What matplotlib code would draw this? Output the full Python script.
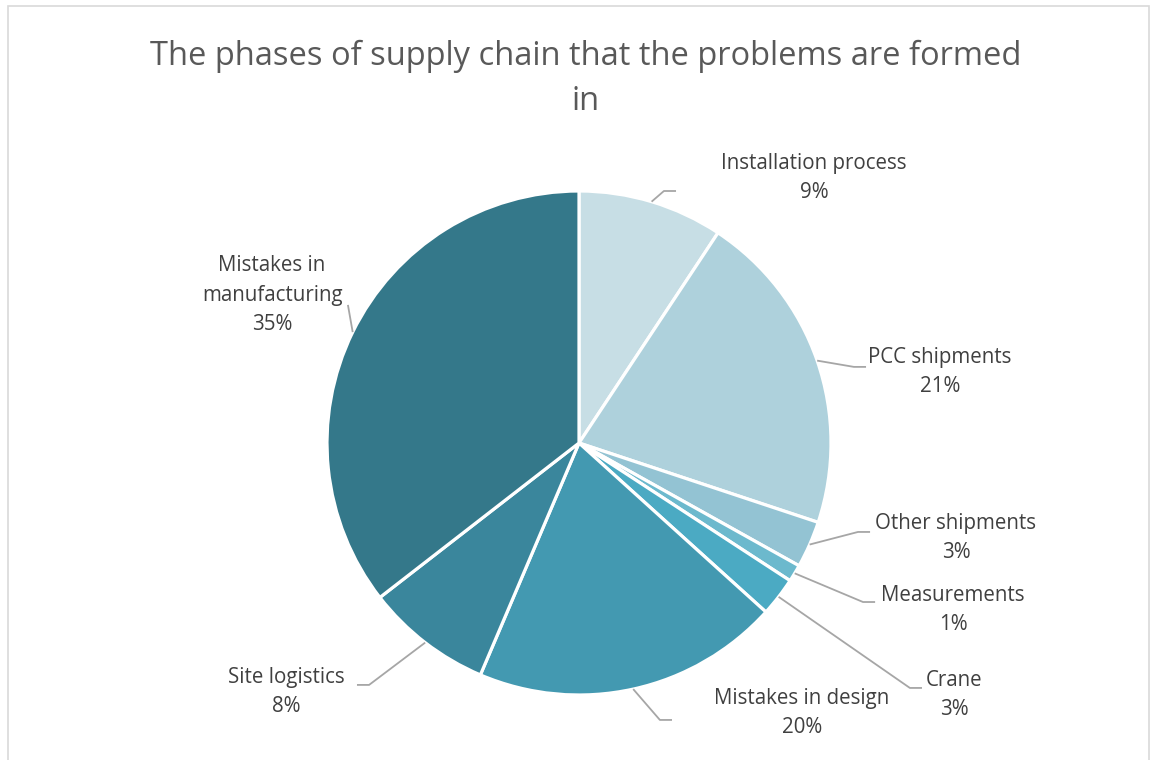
import numpy as np
import matplotlib
matplotlib.use("Agg")
import matplotlib.pyplot as plt
from matplotlib.patches import Rectangle

# slice shares (%), clockwise from 12 o'clock
phases = ["Installation process", "PCC shipments", "Other shipments", "Measurements",
          "Crane", "Mistakes in design", "Site logistics", "Mistakes in\nmanufacturing"]
shares = [9.3, 20.8, 3.0, 1.1, 2.5, 19.7, 8.1, 35.5]
pct_labels = ["9%", "21%", "3%", "1%", "3%", "20%", "8%", "35%"]
colors = ["#C7DEE5", "#AED1DC", "#93C3D3", "#6CB9CD", "#4BAAC3", "#4399B1", "#3A869C", "#34788A"]

# label layout (pie radius units): text centre, end of leader line, elbow side
text_pos = [(0.933, 1.052), (1.433, 0.282), (1.496, -0.377), (1.484, -0.663),
            (1.488, -1.00), (0.885, -1.071), (-1.163, -0.988), (-1.218, 0.587)]
line_end = [(0.385, 1.00), (1.139, 0.302), (1.155, -0.353), (1.175, -0.631),
            (1.361, -0.972), (0.369, -1.099), (-0.881, -0.960), (-0.917, 0.548)]
elbow = [-1, -1, -1, -1, -1, -1, 1, 0]

W, H = 1152, 760
fig = plt.figure(figsize=(W/100, H/100), dpi=100)
fig.patch.set_facecolor("white")

# chart border
fig.add_artist(Rectangle((8/W, -0.01), (1149-8)/W, (760-6)/H + 0.01, transform=fig.transFigure,
                         fill=False, edgecolor="#D9D9D9", lw=1.2))

cx, cy, r = 579, 443, 252
ax = fig.add_axes([(cx - r)/W, (H - cy - r)/H, 2*r/W, 2*r/H])

wedges, _ = ax.pie(shares, colors=colors, startangle=90, counterclock=False, radius=1,
                   wedgeprops=dict(edgecolor="white", linewidth=2.3))
ax.set_xlim(-1, 1)
ax.set_ylim(-1, 1)
ax.set_aspect("equal")
ax.axis("off")

font = "Open Sans"
for i, w in enumerate(wedges):
    th = np.deg2rad((w.theta1 + w.theta2) / 2)
    ax0, ay0 = np.cos(th), np.sin(th)
    ex, ey = line_end[i]
    xs = [ax0, ex + elbow[i]*0.048, ex] if elbow[i] else [ax0, ex]
    ys = [ay0, ey, ey] if elbow[i] else [ay0, ey]
    ax.plot(xs, ys, color="#A6A6A6", lw=1.3, clip_on=False, solid_capstyle="butt")
    tx, ty = text_pos[i]
    ax.text(tx, ty, phases[i] + "\n" + pct_labels[i], ha="center", va="center",
            fontsize=14.8, color="#404040", family=font, linespacing=1.52, clip_on=False)

fig.text(0.5 + 10/W, 1 - 56/H, "The phases of supply chain that the problems are formed",
         ha="center", va="center", fontsize=23.5, color="#595959", family=font)
fig.text(0.5 + 10/W, 1 - 101/H, "in", ha="center", va="center", fontsize=23.5,
         color="#595959", family=font)

fig.savefig("out.png", dpi=100, facecolor="white")
